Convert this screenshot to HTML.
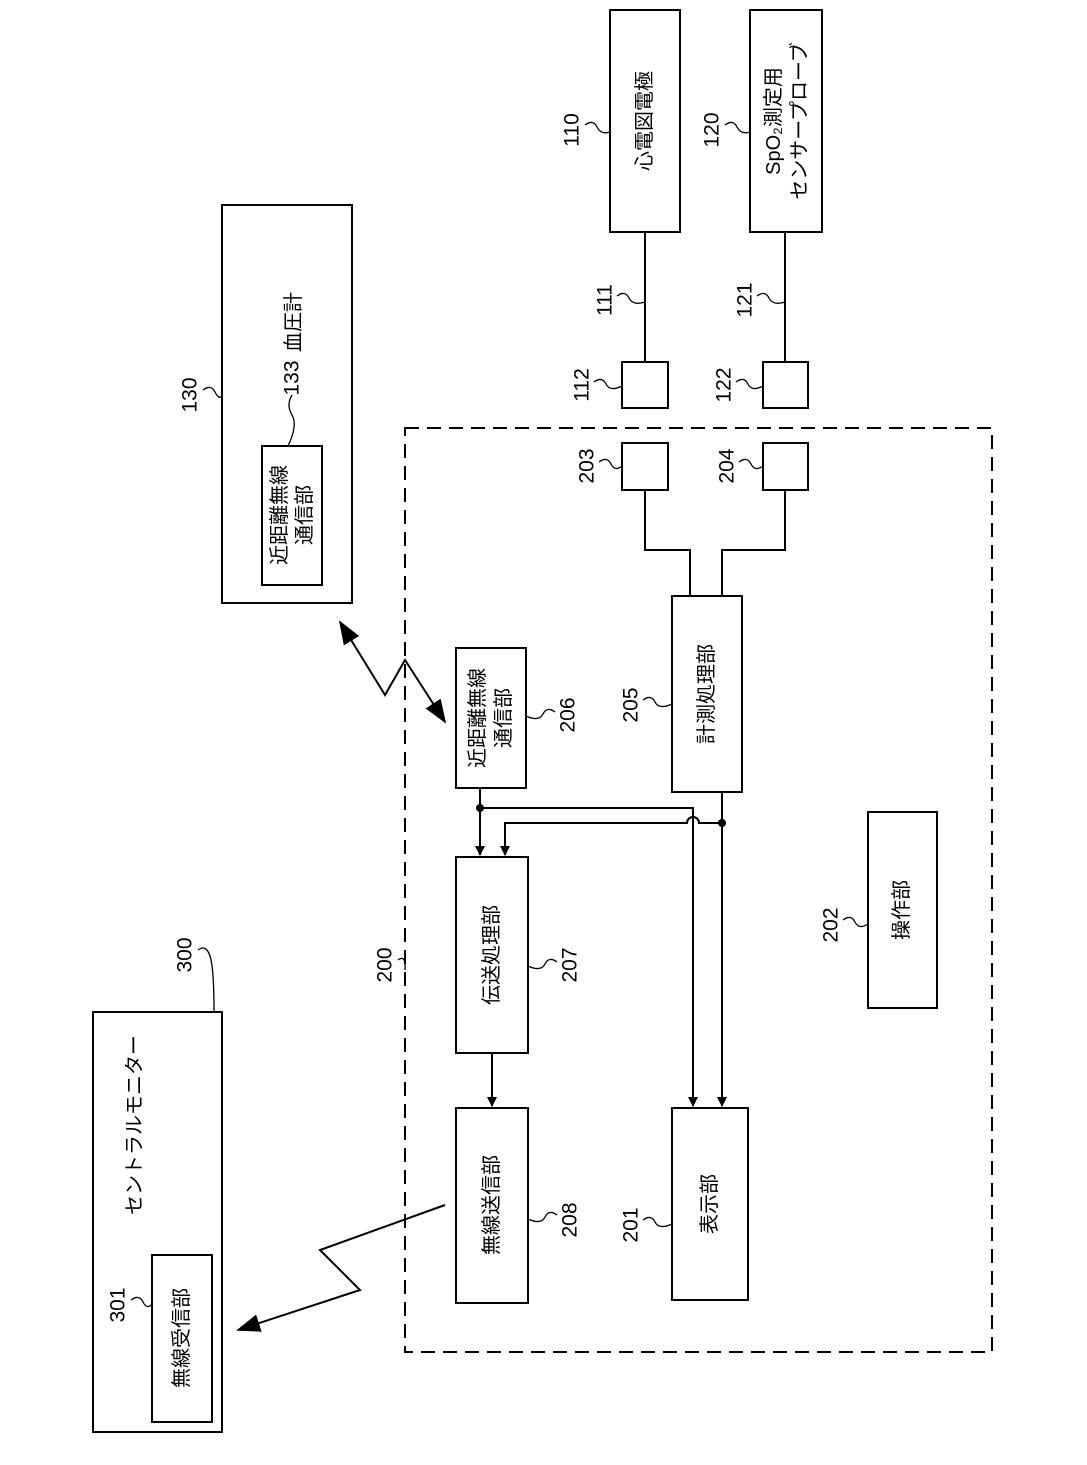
<!DOCTYPE html>
<html><head><meta charset="utf-8"><style>
html,body{margin:0;padding:0;background:#fff;}
svg{display:block;}
text{font-family:"Liberation Sans","Noto Sans CJK JP",sans-serif;fill:#000;}
</style></head><body>
<svg width="1087" height="1465" viewBox="0 0 1087 1465" xmlns="http://www.w3.org/2000/svg">
<defs>
<marker id="ah" markerWidth="10" markerHeight="10" refX="9" refY="5" orient="auto" markerUnits="userSpaceOnUse">
<path d="M0,0 L10,5 L0,10 z" fill="#000"/></marker>
<marker id="ahb" markerWidth="24" markerHeight="18" refX="22" refY="9" orient="auto-start-reverse" markerUnits="userSpaceOnUse">
<path d="M0,0 L24,9 L0,18 z" fill="#000"/></marker>
</defs>
<g fill="none" stroke="#000" stroke-width="2">
<rect x="610" y="10" width="70" height="222"/>
<rect x="750" y="10" width="72" height="222"/>
<line x1="645" y1="232" x2="645" y2="362"/>
<line x1="785" y1="232" x2="785" y2="362"/>
<rect x="622" y="362" width="46" height="46"/>
<rect x="763" y="362" width="45" height="46"/>
<rect x="405" y="428" width="587" height="924" stroke-dasharray="14,8"/>
<rect x="622" y="443" width="46" height="47"/>
<rect x="763" y="443" width="45" height="47"/>
<polyline points="645,490 645,550 690,550 690,596"/>
<polyline points="785,490 785,550 722,550 722,596"/>
<rect x="672" y="596" width="70" height="196"/>
<rect x="456" y="648" width="70" height="140"/>
<rect x="222" y="205" width="130" height="398"/>
<rect x="262" y="446" width="60" height="139"/>
<rect x="456" y="857" width="72" height="196"/>
<rect x="456" y="1108" width="72" height="195"/>
<rect x="672" y="1108" width="76" height="192"/>
<rect x="868" y="812" width="69" height="196"/>
<rect x="93" y="1012" width="129" height="420"/>
<rect x="152" y="1255" width="60" height="167"/>
<line x1="480" y1="788" x2="480" y2="855" marker-end="url(#ah)"/>
<polyline points="480,808 693,808 693,1106" marker-end="url(#ah)"/>
<line x1="722" y1="792" x2="722" y2="1106" marker-end="url(#ah)"/>
<path d="M722,823 L699,823 A6,6 0 0 0 687,823 L505,823 L505,855" marker-end="url(#ah)"/>
<line x1="492" y1="1053" x2="492" y2="1106" marker-end="url(#ah)"/>
<polyline points="340,622 385,695 405,660 445,722" marker-end="url(#ahb)" marker-start="url(#ahb)"/>
<polyline points="445,1205 320,1250 360,1290 238,1330" marker-end="url(#ahb)"/>
</g>
<g fill="none" stroke="#000" stroke-width="1.3">
<path d="M585,125 q8,-6 12,2 t13,5"/>
<path d="M725,125 q8,-6 12,2 t13,5"/>
<path d="M617,296 q8,-6 12,2 t16,4"/>
<path d="M757,296 q8,-6 12,2 t16,4"/>
<path d="M594,382 q8,-6 12,2 t16,2"/>
<path d="M736,382 q8,-6 12,2 t15,2"/>
<path d="M599,462 q8,-6 12,2 t11,2"/>
<path d="M739,462 q8,-6 12,2 t12,2"/>
<path d="M643,700 q8,-6 12,2 t17,2"/>
<path d="M555,712 q-8,-6 -12,2 t-17,2"/>
<path d="M203,390 q8,-6 12,2 t7,4"/>
<path d="M292,395 q-6,10 0,20 t-4,31"/>
<path d="M557,962 q-8,-6 -12,2 t-17,2"/>
<path d="M557,1215 q-8,-6 -12,2 t-17,2"/>
<path d="M643,1220 q8,-6 12,2 t17,2"/>
<path d="M843,920 q8,-6 12,2 t13,2"/>
<path d="M398,960 q8,-6 7,10"/>
<path d="M198,950 q8,-6 12,6 t4,56"/>
<path d="M131,1300 q8,-6 12,2 t9,2"/>
</g>
<circle cx="480" cy="808" r="4" fill="#000"/>
<circle cx="722" cy="823" r="4" fill="#000"/>
<g font-size="20" text-anchor="middle" dominant-baseline="central">
<text transform="translate(645,121) rotate(-90)">心電図電極</text>
<text transform="translate(774,121) rotate(-90)">SpO₂測定用</text>
<text transform="translate(800,121) rotate(-90)">センサープローブ</text>
<text transform="translate(707,694) rotate(-90)">計測処理部</text>
<text transform="translate(478,718) rotate(-90)">近距離無線</text>
<text transform="translate(504,718) rotate(-90)">通信部</text>
<text transform="translate(280,515) rotate(-90)">近距離無線</text>
<text transform="translate(305,515) rotate(-90)">通信部</text>
<text transform="translate(294,322) rotate(-90)">血圧計</text>
<text transform="translate(492,955) rotate(-90)">伝送処理部</text>
<text transform="translate(492,1205) rotate(-90)">無線送信部</text>
<text transform="translate(710,1204) rotate(-90)">表示部</text>
<text transform="translate(902,910) rotate(-90)">操作部</text>
<text transform="translate(135,1125) rotate(-90)">セントラルモニター</text>
<text transform="translate(182,1338) rotate(-90)">無線受信部</text>
</g>
<g font-size="21" text-anchor="middle" dominant-baseline="central">
<text transform="translate(572,130) rotate(-90)">110</text>
<text transform="translate(712,130) rotate(-90)">120</text>
<text transform="translate(605,300) rotate(-90)">111</text>
<text transform="translate(745,300) rotate(-90)">121</text>
<text transform="translate(582,385) rotate(-90)">112</text>
<text transform="translate(724,385) rotate(-90)">122</text>
<text transform="translate(587,466) rotate(-90)">203</text>
<text transform="translate(727,466) rotate(-90)">204</text>
<text transform="translate(631,705) rotate(-90)">205</text>
<text transform="translate(568,715) rotate(-90)">206</text>
<text transform="translate(190,395) rotate(-90)">130</text>
<text transform="translate(292,378) rotate(-90)">133</text>
<text transform="translate(570,965) rotate(-90)">207</text>
<text transform="translate(570,1220) rotate(-90)">208</text>
<text transform="translate(631,1225) rotate(-90)">201</text>
<text transform="translate(831,925) rotate(-90)">202</text>
<text transform="translate(385,965) rotate(-90)">200</text>
<text transform="translate(185,955) rotate(-90)">300</text>
<text transform="translate(118,1305) rotate(-90)">301</text>
</g>
</svg>
</body></html>
